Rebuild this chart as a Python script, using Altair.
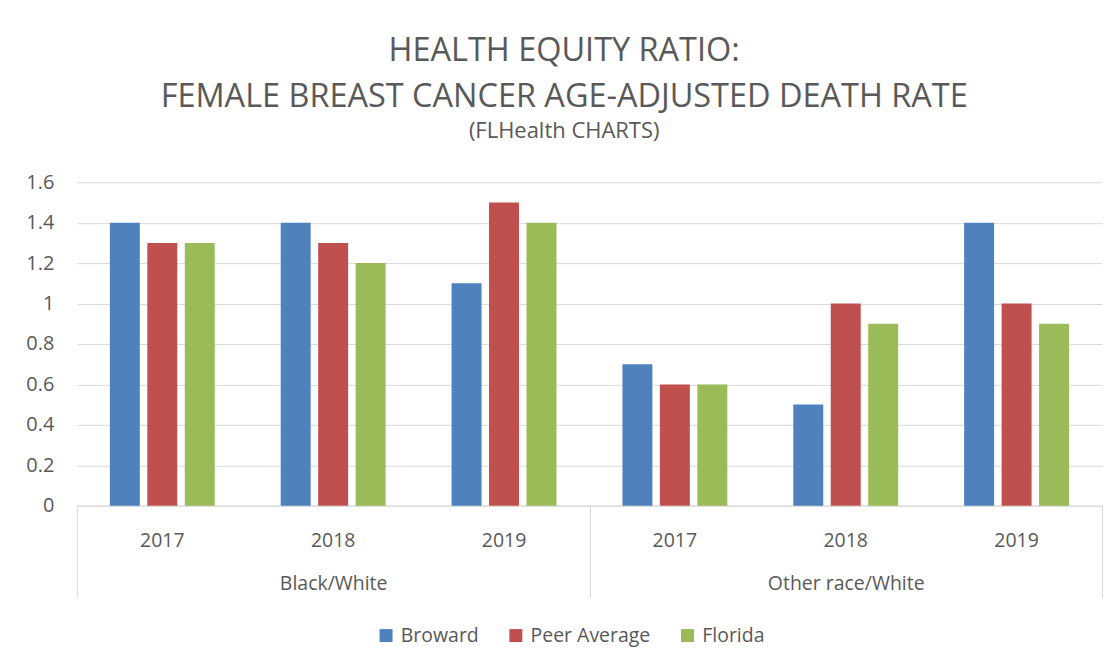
import altair as alt
import pandas as pd

groups = ["Black/White", "Other race/White"]
years = ["2017", "2018", "2019"]
series = ["Broward", "Peer Average", "Florida"]
colors = ["#4f81bd", "#c0504d", "#9bbb59"]

broward_bw = [1.4, 1.4, 1.1]
peer_bw = [1.3, 1.3, 1.5]
florida_bw = [1.3, 1.2, 1.4]
broward_ow = [0.7, 0.5, 1.4]
peer_ow = [0.6, 1.0, 1.0]
florida_ow = [0.6, 0.9, 0.9]

table = {
    "Black/White": [broward_bw, peer_bw, florida_bw],
    "Other race/White": [broward_ow, peer_ow, florida_ow],
}
rows = []
for g in groups:
    for si, s in enumerate(series):
        for yi, y in enumerate(years):
            rows.append({"group": g, "year": y, "key": g + "|" + y,
                         "series": s, "value": table[g][si][yi]})
df = pd.DataFrame(rows)
keys = [g + "|" + y for g in groups for y in years]

FONT = "Open Sans"
TXT = "#595959"
GRID = "#d9d9d9"
W = 1027
H = 324

base = alt.Chart(df)

bars = base.mark_bar().encode(
    x=alt.X("key:N", sort=keys, title=None,
            scale=alt.Scale(paddingInner=0.386, paddingOuter=0.193),
            axis=alt.Axis(orient="bottom", domain=True, domainColor=GRID, ticks=False,
                          labelAngle=0, labelExpr="split(datum.label, '|')[1]",
                          labelFontSize=19.5, labelColor=TXT, labelFont=FONT, labelPadding=26)),
    xOffset=alt.XOffset("series:N", sort=series,
                        scale=alt.Scale(paddingInner=0.2, paddingOuter=0)),
    y=alt.Y("value:Q", title=None,
            scale=alt.Scale(domain=[0, 1.6]),
            axis=alt.Axis(values=[0, 0.2, 0.4, 0.6, 0.8, 1.0, 1.2, 1.4, 1.6], format="~g",
                          domain=False, ticks=False, grid=True, gridColor=GRID,
                          labelFontSize=20, labelColor=TXT, labelFont=FONT, labelPadding=23)),
    color=alt.Color("series:N", sort=series,
                    scale=alt.Scale(domain=series, range=colors),
                    legend=alt.Legend(title=None, orient="none", direction="horizontal",
                                      legendX=300, legendY=444,
                                      symbolType="square", symbolSize=169, symbolStrokeWidth=0,
                                      labelFontSize=19.5, labelColor=TXT, labelFont=FONT,
                                      labelOffset=5, columnPadding=27)),
)

group_axis = base.mark_point(opacity=0).encode(
    x=alt.X("group:N", sort=groups, title=None,
            scale=alt.Scale(paddingInner=0, paddingOuter=0),
            axis=alt.Axis(orient="bottom", domain=False, ticks=True, tickBand="extent",
                          tickSize=92, tickColor=GRID, tickWidth=1, labelAngle=0,
                          labelFontSize=19.5, labelColor=TXT, labelFont=FONT,
                          labelPadding=-23)),
    y=alt.Y("value:Q"),
)

chart = alt.layer(bars, group_axis).resolve_scale(x="independent").properties(
    width=W, height=H,
    title=alt.TitleParams(
        text=["HEALTH EQUITY RATIO:", "FEMALE BREAST CANCER AGE-ADJUSTED DEATH RATE"],
        subtitle="(FLHealth CHARTS)",
        font=FONT, fontSize=32.5, fontWeight="normal", color=TXT, lineHeight=46,
        subtitleFont=FONT, subtitleFontSize=22, subtitleColor=TXT, subtitlePadding=8,
        anchor="middle", frame="bounds", offset=30),
    padding={"left": 17, "top": 26, "right": 8, "bottom": 10},
).configure_view(stroke=None)

chart.save("out.html", embed_options={"renderer": "svg", "actions": False})
